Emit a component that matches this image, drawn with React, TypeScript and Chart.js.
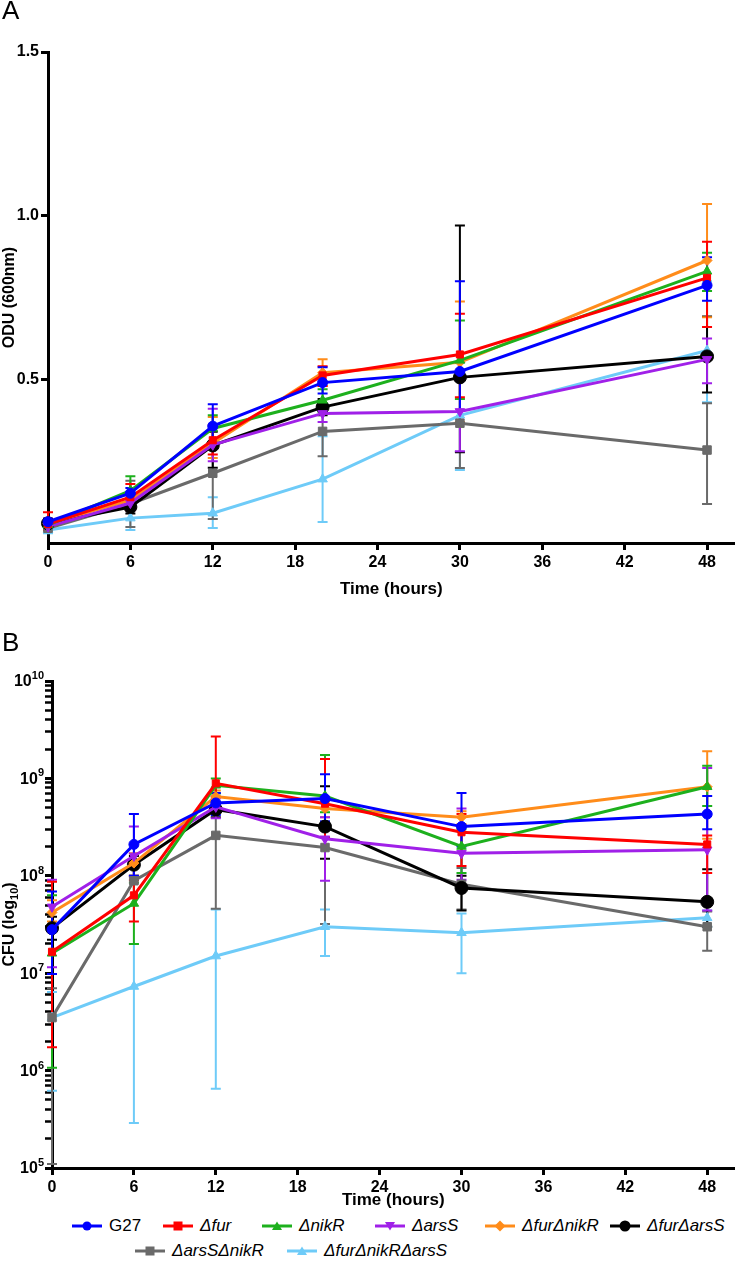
import React, { useEffect, useRef } from "react";
import { Chart, registerables } from "chart.js";

Chart.register(...registerables);

// ---------- shared categories ----------
const times = [0, 6, 12, 20, 30, 48];
const xTicks = [0, 6, 12, 18, 24, 30, 36, 42, 48];
const odTicks = [0.5, 1.0, 1.5];
const cfuExponents = [5, 6, 7, 8, 9, 10];
const strains = ["G27", "Δfur", "ΔnikR", "ΔarsS", "ΔfurΔnikR", "ΔfurΔarsS", "ΔarsSΔnikR", "ΔfurΔnikRΔarsS"];

// ---------- Panel A: OD600 (mean, upper and lower error-bar ends) ----------
const odG27 = [0.065, 0.152, 0.357, 0.49, 0.524, 0.787];
const odG27Hi = [0.075, 0.168, 0.424, 0.537, 0.8, 0.873];
const odG27Lo = [0.055, 0.136, 0.29, 0.457, 0.366, 0.74];
const odFur = [0.058, 0.14, 0.314, 0.512, 0.576, 0.81];
const odFurHi = [0.094, 0.18, 0.36, 0.54, 0.7, 0.92];
const odFurLo = [0.04, 0.1, 0.27, 0.48, 0.445, 0.66];
const odNikR = [0.055, 0.16, 0.35, 0.436, 0.558, 0.83];
const odNikRHi = [0.07, 0.204, 0.39, 0.47, 0.68, 0.887];
const odNikRLo = [0.045, 0.12, 0.31, 0.4, 0.44, 0.77];
const odArsS = [0.05, 0.122, 0.3, 0.396, 0.402, 0.561];
const odArsSHi = [0.06, 0.14, 0.41, 0.42, 0.52, 0.625];
const odArsSLo = [0.04, 0.1, 0.25, 0.37, 0.28, 0.488];
const odFurNikR = [0.06, 0.13, 0.305, 0.52, 0.552, 0.863];
const odFurNikRHi = [0.075, 0.15, 0.385, 0.561, 0.738, 1.036];
const odFurNikRLo = [0.05, 0.11, 0.26, 0.48, 0.37, 0.69];
const odFurArsS = [0.06, 0.11, 0.298, 0.415, 0.506, 0.57];
const odFurArsSHi = [0.07, 0.13, 0.34, 0.44, 0.97, 0.692];
const odFurArsSLo = [0.05, 0.09, 0.23, 0.39, 0.277, 0.46];
const odArsSNikR = [0.045, 0.12, 0.213, 0.341, 0.366, 0.284];
const odArsSNikRHi = [0.055, 0.19, 0.35, 0.417, 0.5, 0.427];
const odArsSNikRLo = [0.035, 0.049, 0.073, 0.265, 0.229, 0.119];
const odTriple = [0.04, 0.076, 0.091, 0.195, 0.39, 0.588];
const odTripleHi = [0.05, 0.11, 0.14, 0.326, 0.55, 0.8];
const odTripleLo = [0.03, 0.04, 0.046, 0.064, 0.223, 0.43];

// ---------- Panel B: CFU (mean, upper and lower error-bar ends) ----------
const cfuG27 = [2.8e7, 2.1e8, 5.6e8, 6.2e8, 3.2e8, 4.3e8];
const cfuG27Hi = [6.9e7, 4.3e8, 7.1e8, 1.1e9, 7.1e8, 6.6e8];
const cfuG27Lo = [9.8e6, 1.0e8, 4.2e8, 3.6e8, 2.0e8, 3.0e8];
const cfuFur = [1.66e7, 6.3e7, 8.9e8, 5.5e8, 2.8e8, 2.1e8];
const cfuFurHi = [8.7e7, 9.0e7, 2.7e9, 1.58e9, 4.3e8, 2.6e8];
const cfuFurLo = [1.74e6, 3.4e7, 6.5e8, 2.5e8, 1.26e8, 1.07e8];
const cfuNikR = [1.6e7, 5.2e7, 8.5e8, 6.6e8, 2.0e8, 8.2e8];
const cfuNikRHi = [6.3e7, 8.5e7, 1.0e9, 1.74e9, 3.0e8, 1.35e9];
const cfuNikRLo = [1.07e6, 2.0e7, 7.0e8, 4.5e8, 1.07e8, 5.2e8];
const cfuArsS = [4.8e7, 1.6e8, 5.1e8, 2.4e8, 1.7e8, 1.85e8];
const cfuArsSHi = [9.1e7, 3.2e8, 6.2e8, 4.0e8, 4.9e8, 1.28e9];
const cfuArsSLo = [1.15e7, 9.6e7, 3.9e8, 8.9e7, 9.1e7, 4.4e7];
const cfuFurNikR = [4.2e7, 1.35e8, 6.5e8, 4.9e8, 4.0e8, 8.2e8];
const cfuFurNikRHi = [5.6e7, 1.7e8, 7.5e8, 5.8e8, 4.6e8, 1.9e9];
const cfuFurNikRLo = [3.4e7, 1.0e8, 5.5e8, 4.0e8, 3.4e8, 2.4e8];
const cfuFurArsS = [2.9e7, 1.3e8, 4.8e8, 3.2e8, 7.5e7, 5.4e7];
const cfuFurArsSHi = [3.8e7, 1.6e8, 5.5e8, 8.3e8, 1.0e8, 1.17e8];
const cfuFurArsSLo = [2.2e7, 1.0e8, 4.0e8, 1.5e8, 4.4e7, 3.0e7];
const cfuArsSNikR = [3.5e6, 8.9e7, 2.6e8, 1.95e8, 8.2e7, 3.0e7];
const cfuArsSNikRHi = [7.0e6, 1.2e8, 4.7e8, 3.6e8, 1.2e8, 4.3e7];
const cfuArsSNikRLo = [1.1e5, 6.0e7, 4.6e7, 3.2e7, 4.5e7, 1.7e7];
const cfuTriple = [3.5e6, 7.3e6, 1.5e7, 3.0e7, 2.6e7, 3.7e7];
const cfuTripleHi = [6.4e6, 2.0e7, 4.5e7, 4.5e7, 4.1e7, 4.4e7];
const cfuTripleLo = [6.2e5, 2.9e5, 6.5e5, 1.5e7, 1.0e7, 3.0e7];

// ---------- styles ----------
const colors = ["#0000ff", "#ff0000", "#1db01d", "#a020e8", "#ff8c1a", "#000000", "#6a6a6a", "#6ecbf8"];
const pointStyles = ["circle", "rect", "triangle", "triangle", "rectRot", "circle", "rect", "triangle"];
const rotations = [0, 0, 0, 180, 0, 0, 0, 0];
const radii = [5, 5, 5.5, 5.5, 5, 6.5, 6, 5.5];
const FONT = "'Liberation Sans', Arial, Helvetica, sans-serif";

const odSeries = [
  [odG27, odG27Hi, odG27Lo],
  [odFur, odFurHi, odFurLo],
  [odNikR, odNikRHi, odNikRLo],
  [odArsS, odArsSHi, odArsSLo],
  [odFurNikR, odFurNikRHi, odFurNikRLo],
  [odFurArsS, odFurArsSHi, odFurArsSLo],
  [odArsSNikR, odArsSNikRHi, odArsSNikRLo],
  [odTriple, odTripleHi, odTripleLo],
];
const cfuSeries = [
  [cfuG27, cfuG27Hi, cfuG27Lo],
  [cfuFur, cfuFurHi, cfuFurLo],
  [cfuNikR, cfuNikRHi, cfuNikRLo],
  [cfuArsS, cfuArsSHi, cfuArsSLo],
  [cfuFurNikR, cfuFurNikRHi, cfuFurNikRLo],
  [cfuFurArsS, cfuFurArsSHi, cfuFurArsSLo],
  [cfuArsSNikR, cfuArsSNikRHi, cfuArsSNikRLo],
  [cfuTriple, cfuTripleHi, cfuTripleLo],
];

function makeErrorPlugin(series: number[][][]) {
  return {
    id: "errorBars",
    beforeDatasetsDraw(chart: any) {
      const { ctx, scales } = chart;
      const xs = scales.x;
      const ys = scales.y;
      ctx.save();
      for (let i = series.length - 1; i >= 0; i--) {
        const [, hi, lo] = series[i];
        ctx.strokeStyle = colors[i];
        ctx.lineWidth = 2;
        times.forEach((t, j) => {
          const x = xs.getPixelForValue(t);
          const yh = ys.getPixelForValue(hi[j]);
          const yl = ys.getPixelForValue(lo[j]);
          ctx.beginPath();
          ctx.moveTo(x, yh);
          ctx.lineTo(x, yl);
          ctx.moveTo(x - 5, yh);
          ctx.lineTo(x + 5, yh);
          ctx.moveTo(x - 5, yl);
          ctx.lineTo(x + 5, yl);
          ctx.stroke();
        });
      }
      ctx.restore();
    },
  };
}

// Power-of-ten tick labels with a real superscript, and the CFU (log10) title with a subscript
const logLabelPlugin = {
  id: "logLabels",
  afterDraw(chart: any) {
    const { ctx, scales, chartArea } = chart;
    const ys = scales.y;
    ctx.save();
    ctx.fillStyle = "#000";
    cfuExponents.forEach((e) => {
      const y = ys.getPixelForValue(Math.pow(10, e));
      const right = chartArea.left - 8;
      ctx.font = `bold 11px ${FONT}`;
      const exp = String(e);
      const wExp = ctx.measureText(exp).width;
      ctx.textAlign = "left";
      ctx.textBaseline = "alphabetic";
      ctx.fillText(exp, right - wExp, y - 2);
      ctx.font = `bold 16px ${FONT}`;
      ctx.textAlign = "right";
      ctx.textBaseline = "middle";
      ctx.fillText("10", right - wExp, y + 1);
    });
    // rotated axis title
    const cy = (chartArea.top + chartArea.bottom) / 2;
    ctx.translate(10, cy);
    ctx.rotate(-Math.PI / 2);
    ctx.font = `bold 16px ${FONT}`;
    const main = "CFU (log";
    const wMain = ctx.measureText(main).width;
    ctx.font = `bold 11px ${FONT}`;
    const wSub = ctx.measureText("10").width;
    ctx.font = `bold 16px ${FONT}`;
    const wClose = ctx.measureText(")").width;
    const total = wMain + wSub + wClose;
    let x0 = -total / 2;
    ctx.textAlign = "left";
    ctx.textBaseline = "middle";
    ctx.fillText(main, x0, 0);
    ctx.font = `bold 11px ${FONT}`;
    ctx.fillText("10", x0 + wMain, 5);
    ctx.font = `bold 16px ${FONT}`;
    ctx.fillText(")", x0 + wMain + wSub, 0);
    ctx.restore();
  },
};

function buildDatasets(series: number[][][]) {
  return series.map((s, i) => ({
    label: strains[i],
    data: times.map((t, j) => ({ x: t, y: s[0][j] })),
    borderColor: colors[i],
    backgroundColor: colors[i],
    borderWidth: 3,
    pointStyle: pointStyles[i],
    pointRotation: rotations[i],
    pointRadius: radii[i],
    pointBackgroundColor: colors[i],
    pointBorderColor: colors[i],
    pointBorderWidth: 1,
    tension: 0,
    clip: false,
  }));
}

const xAxis = (titlePad: any) => ({
  type: "linear",
  min: 0,
  max: 50,
  afterBuildTicks: (scale: any) => {
    scale.ticks = xTicks.map((v) => ({ value: v }));
  },
  ticks: {
    autoSkip: false,
    maxRotation: 0,
    color: "#000",
    padding: 3,
    font: { family: FONT, size: 16, weight: "bold" },
    callback: (v: any) => String(v),
  },
  grid: { drawOnChartArea: false, drawTicks: true, tickLength: 7, tickWidth: 3, tickColor: "#000" },
  border: { display: true, color: "#000", width: 3 },
  title: {
    display: true,
    text: "Time (hours)",
    color: "#000",
    font: { family: FONT, size: 17, weight: "bold" },
    padding: titlePad,
  },
});

function ChartCanvas({ config, width, height }: any) {
  const ref = useRef<HTMLCanvasElement>(null);
  useEffect(() => {
    const chart = new Chart(ref.current as HTMLCanvasElement, config);
    return () => chart.destroy();
  }, []);
  return <canvas ref={ref} width={width} height={height} style={{ display: "block", width, height }} />;
}

const odConfig: any = {
  type: "line",
  data: { datasets: buildDatasets(odSeries) },
  plugins: [makeErrorPlugin(odSeries)],
  options: {
    animation: false,
    responsive: false,
    events: [],
    layout: { padding: { top: 52, right: 0, left: 0, bottom: 0 } },
    plugins: { legend: { display: false }, tooltip: { enabled: false } },
    scales: {
      x: { ...xAxis({ top: 0, bottom: 0 }), afterFit: (s: any) => { s.height = 57; } },
      y: {
        type: "linear",
        min: 0,
        max: 1.5,
        afterFit: (s: any) => { s.width = 48; },
        afterBuildTicks: (scale: any) => {
          scale.ticks = odTicks.map((v) => ({ value: v }));
        },
        ticks: {
          autoSkip: false,
          color: "#000",
          padding: 2,
          font: { family: FONT, size: 16, weight: "bold" },
          callback: (v: any) => Number(v).toFixed(1),
        },
        grid: { drawOnChartArea: false, drawTicks: true, tickLength: 7, tickWidth: 3, tickColor: "#000" },
        border: { display: true, color: "#000", width: 3 },
        title: {
          display: true,
          text: "ODU (600nm)",
          color: "#000",
          font: { family: FONT, size: 16, weight: "bold" },
          padding: { top: 0, bottom: 0 },
        },
      },
    },
  },
};

const isPow10 = (v: number) => Math.abs(Math.log10(v) - Math.round(Math.log10(v))) < 1e-6;

const cfuTickValues: number[] = [];
cfuExponents.forEach((e) => {
  if (e === 10) cfuTickValues.push(1e10);
  else for (let k = 1; k <= 9; k++) cfuTickValues.push(k * Math.pow(10, e));
});

const cfuConfig: any = {
  type: "line",
  data: { datasets: buildDatasets(cfuSeries) },
  plugins: [makeErrorPlugin(cfuSeries), logLabelPlugin],
  options: {
    animation: false,
    responsive: false,
    events: [],
    layout: { padding: { top: 81, right: 0, left: 0, bottom: 0 } },
    plugins: { legend: { display: false }, tooltip: { enabled: false } },
    scales: {
      x: { ...xAxis({ top: 0, bottom: 4 }), afterFit: (s: any) => { s.height = 47; } },
      y: {
        type: "logarithmic",
        min: 1e5,
        max: 1e10,
        afterFit: (s: any) => { s.width = 52; },
        afterBuildTicks: (scale: any) => {
          scale.ticks = cfuTickValues.map((v) => ({ value: v, major: isPow10(v) }));
        },
        ticks: {
          autoSkip: false,
          color: "#000",
          padding: 2,
          font: { family: FONT, size: 16, weight: "bold" },
          callback: () => "",
        },
        grid: {
          drawOnChartArea: false,
          drawTicks: true,
          tickLength: 7,
          tickWidth: (c: any) => (c.tick && isPow10(c.tick.value) ? 3 : 2.5),
          tickColor: "#000",
        },
        border: { display: true, color: "#000", width: 3 },
        title: { display: false },
      },
    },
  },
};

function LegendIcon({ i }: { i: number }) {
  const c = colors[i];
  let marker: any;
  if (pointStyles[i] === "circle") marker = <circle cx={15} cy={7} r={i === 5 ? 5.5 : 4.5} fill={c} />;
  else if (pointStyles[i] === "rect") marker = <rect x={10.5} y={2.5} width={9} height={9} fill={c} />;
  else if (pointStyles[i] === "rectRot") marker = <polygon points="15,1.5 20.5,7 15,12.5 9.5,7" fill={c} />;
  else if (rotations[i] === 180) marker = <polygon points="10,3 20,3 15,11.5" fill={c} />;
  else marker = <polygon points="10,11 20,11 15,2.5" fill={c} />;
  return (
    <svg width={30} height={14} style={{ display: "block" }}>
      <line x1={0} y1={7} x2={30} y2={7} stroke={c} strokeWidth={3} />
      {marker}
    </svg>
  );
}

const legendRow1X = [72, 163, 262, 375, 485, 610];
const legendRow2X = [135, 287];

export default function App() {
  const legendItems = strains.map((s, i) => {
    const row = i < 6 ? 0 : 1;
    const left = row === 0 ? legendRow1X[i] : legendRow2X[i - 6];
    const top = row === 0 ? 1226 : 1251;
    return (
      <div key={s} style={{ position: "absolute", left, top: top - 10, height: 20, display: "flex", alignItems: "center" }}>
        <LegendIcon i={i} />
        <span style={{ marginLeft: 7, fontFamily: FONT, fontSize: 17, fontStyle: i === 0 ? "normal" : "italic", color: "#000", whiteSpace: "nowrap" }}>{s}</span>
      </div>
    );
  });
  return (
    <div style={{ position: "absolute", left: 0, top: 0, width: 742, height: 1286, background: "#fff", overflow: "hidden" }}>
      <div style={{ position: "absolute", left: 0, top: 0 }}>
        <ChartCanvas config={odConfig} width={742} height={600} />
      </div>
      <div style={{ position: "absolute", left: 0, top: 600 }}>
        <ChartCanvas config={cfuConfig} width={742} height={615} />
      </div>
      <div style={{ position: "absolute", left: 2, top: -3, fontFamily: FONT, fontSize: 26, color: "#000", lineHeight: 1 }}>A</div>
      <div style={{ position: "absolute", left: 2, top: 629, fontFamily: FONT, fontSize: 26, color: "#000", lineHeight: 1 }}>B</div>
      {legendItems}
    </div>
  );
}
